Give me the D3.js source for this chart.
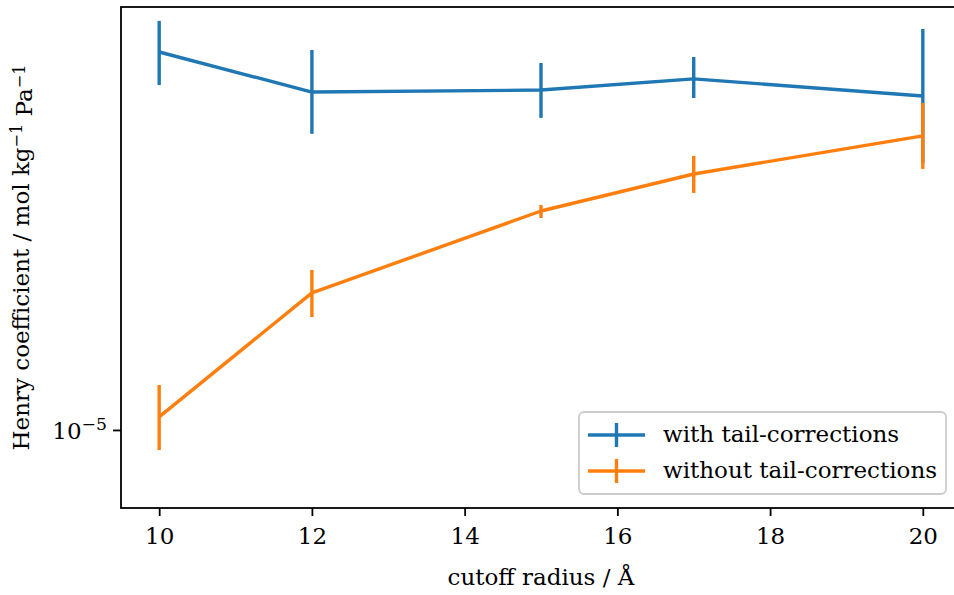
<!DOCTYPE html>
<html>
<head>
<meta charset="utf-8">
<script src="https://cdn.jsdelivr.net/npm/d3@7"></script>
<style>
  body { margin: 0; background: #fff; }
  svg { display: block; }
</style>
</head>
<body>
<svg></svg>
<script>
// cutoff radius / Å
var radii = [10, 12, 15, 17, 20]

// Henry coefficient, mol kg^-1 Pa^-1 (centre, lower and upper end of error bar)
var withTail = [2.630e-5, 2.374e-5, 2.386e-5, 2.455e-5, 2.350e-5]
var withTailLow = [2.417e-5, 2.133e-5, 2.222e-5, 2.338e-5, 1.980e-5]
var withTailHigh = [2.848e-5, 2.644e-5, 2.557e-5, 2.597e-5, 2.790e-5]

var withoutTail = [1.034e-5, 1.420e-5, 1.751e-5, 1.925e-5, 2.122e-5]
var withoutTailLow = [0.950e-5, 1.335e-5, 1.720e-5, 1.834e-5, 1.950e-5]
var withoutTailHigh = [1.122e-5, 1.506e-5, 1.778e-5, 2.016e-5, 2.309e-5]

var xTicks = [10, 12, 14, 16, 18, 20]
var yTicks = [1e-5]
var seriesNames = ["with tail-corrections", "without tail-corrections"]
var colors = ["#1f77b4", "#ff7f0e"]

var series = [
    { name: seriesNames[0], color: colors[0], y: withTail, lo: withTailLow, hi: withTailHigh },
    { name: seriesNames[1], color: colors[1], y: withoutTail, lo: withoutTailLow, hi: withoutTailHigh }
]

// Set up shape of SVG
var svgWidth = 954, svgHeight = 595;
var margin = { top: 7, right: -7, bottom: 87, left: 121 };
var width = svgWidth - margin.left - margin.right;
var height = svgHeight - margin.top - margin.bottom;
var fontSize = 23;
var serif = "'DejaVu Serif', 'Liberation Serif', 'Noto Serif', serif";
var lw = 3.4;

var svg = d3.select('svg')
    .attr("width", svgWidth)
    .attr("height", svgHeight)
    .style("font-family", serif);

var g = svg.append("g")
    .attr("transform", "translate(" + margin.left + "," + margin.top + ")");

var x = d3.scaleLinear().domain([9.5, 20.5]).range([0, width]);
var y = d3.scaleLog().domain([0.819e-5, 2.951e-5]).range([height, 0]);

// X axis
var xAxis = g.append("g")
    .attr("transform", "translate(0," + height + ")")
    .call(d3.axisBottom(x).tickValues(xTicks).tickFormat(d3.format("d"))
        .tickSize(8).tickSizeOuter(0).tickPadding(12));
xAxis.attr("font-family", null);
xAxis.select(".domain").remove();
xAxis.selectAll(".tick line").attr("stroke", "#000").attr("stroke-width", 1.8);
xAxis.selectAll(".tick text")
    .attr("fill", "#000")
    .style("font-family", serif)
    .attr("font-size", fontSize);

g.append("text")
    .attr("x", width / 2)
    .attr("y", height + 77)
    .attr("text-anchor", "middle")
    .attr("font-size", fontSize)
    .text("cutoff radius / Å");

// Y axis
var yAxis = g.append("g")
    .call(d3.axisLeft(y).tickValues(yTicks).tickFormat("")
        .tickSize(8).tickSizeOuter(0).tickPadding(8));
yAxis.attr("font-family", null);
yAxis.select(".domain").remove();
yAxis.selectAll(".tick line").attr("stroke", "#000").attr("stroke-width", 1.8);
yAxis.selectAll(".tick").each(function(d) {
    var exp = Math.round(Math.log10(d));
    var t = d3.select(this).append("text")
        .attr("x", -14)
        .attr("dy", "0.35em")
        .attr("text-anchor", "end")
        .attr("fill", "#000")
        .style("font-family", serif)
        .attr("font-size", fontSize);
    t.append("tspan").text("10");
    t.append("tspan").attr("dy", "-0.5em").attr("font-size", fontSize * 0.75)
        .text("\u2212" + Math.abs(exp));
});

var yl = g.append("text")
    .attr("transform", "translate(-92," + (height / 2) + ") rotate(-90)")
    .attr("text-anchor", "middle")
    .attr("font-size", fontSize);
yl.append("tspan").text("Henry coefficient / mol kg");
yl.append("tspan").attr("dy", "-0.45em").attr("font-size", fontSize * 0.7).text("\u22121");
yl.append("tspan").attr("dy", "0.45em").text(" Pa");
yl.append("tspan").attr("dy", "-0.45em").attr("font-size", fontSize * 0.7).text("\u22121");

// Lines and error bars
var line = d3.line()
    .x(function(d, i) { return x(radii[i]) })
    .y(function(d) { return y(d) });

series.forEach(function(s) {
    var sg = g.append("g");
    sg.append("path")
        .datum(s.y)
        .attr("fill", "none")
        .attr("stroke", s.color)
        .attr("stroke-width", lw)
        .attr("stroke-linejoin", "round")
        .attr("d", line);
    sg.selectAll("line.err")
        .data(radii)
        .enter().append("line")
        .attr("class", "err")
        .attr("x1", function(d) { return x(d) })
        .attr("x2", function(d) { return x(d) })
        .attr("y1", function(d, i) { return y(s.lo[i]) })
        .attr("y2", function(d, i) { return y(s.hi[i]) })
        .attr("stroke", s.color)
        .attr("stroke-width", lw);
});

// Frame
g.append("rect")
    .attr("width", width)
    .attr("height", height)
    .attr("fill", "none")
    .attr("stroke", "#000")
    .attr("stroke-width", 1.8);

// Legend
var legend = svg.append("g").attr("transform", "translate(579,412)");
legend.append("rect")
    .attr("width", 367)
    .attr("height", 82)
    .attr("rx", 5)
    .attr("fill", "#fff")
    .attr("fill-opacity", 0.8)
    .attr("stroke", "#cccccc")
    .attr("stroke-width", 1.8);
series.forEach(function(s, i) {
    var cy = 23 + i * 36;
    var lg = legend.append("g").attr("transform", "translate(0," + cy + ")");
    lg.append("line").attr("x1", 9).attr("x2", 66).attr("y1", 0).attr("y2", 0)
        .attr("stroke", s.color).attr("stroke-width", lw);
    lg.append("line").attr("x1", 37.5).attr("x2", 37.5).attr("y1", -12).attr("y2", 12)
        .attr("stroke", s.color).attr("stroke-width", lw);
    lg.append("text").attr("x", 84).attr("dy", "0.32em")
        .attr("font-size", fontSize)
        .text(s.name);
});
</script>
</body>
</html>
